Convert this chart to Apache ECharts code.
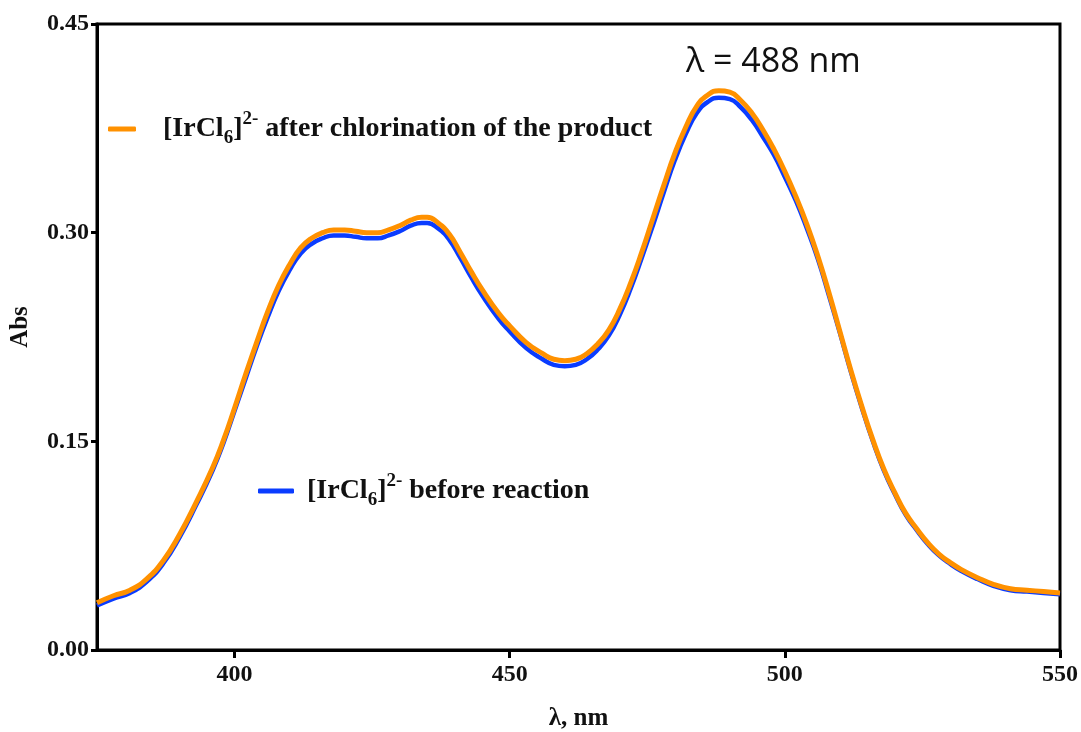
<!DOCTYPE html>
<html>
<head>
<meta charset="utf-8">
<script src="https://cdn.jsdelivr.net/npm/echarts@6/dist/echarts.min.js"></script>
<style>html,body{margin:0;padding:0;background:#fff}#c{width:1081px;height:732px}</style>
</head>
<body>
<div id="c"></div>
<script>
const wavelengths = [375,378,381,384,387,390,393,396,398,400,402,404,406,408,410,412,414,416,418,420,422,424,426,428,430,432,434,435,437,439,441,443,445,448,450,453,456,458,460,462,464,466,468,470,472,474,476,478,480,482,484,486,488,490,492,494,496,498,500,502,504,506,508,510,512,514,516,518,520,522,524,526,528,530,532,535,538,541,544,547,550];
const afterChlorination = [0.034,0.039,0.043,0.051,0.064,0.083,0.106,0.131,0.151,0.174,0.198,0.221,0.243,0.262,0.277,0.289,0.296,0.300,0.302,0.302,0.301,0.300,0.300,0.302,0.305,0.309,0.311,0.311,0.307,0.299,0.286,0.272,0.259,0.242,0.233,0.221,0.213,0.209,0.208,0.209,0.213,0.220,0.230,0.245,0.264,0.286,0.310,0.334,0.357,0.376,0.391,0.399,0.402,0.401,0.395,0.386,0.374,0.360,0.344,0.326,0.306,0.283,0.257,0.229,0.201,0.175,0.151,0.130,0.113,0.098,0.087,0.077,0.069,0.063,0.058,0.052,0.047,0.044,0.043,0.042,0.041];
const beforeReaction = [0.032,0.037,0.041,0.049,0.062,0.081,0.104,0.129,0.149,0.172,0.195,0.218,0.239,0.258,0.273,0.285,0.292,0.296,0.298,0.298,0.297,0.296,0.296,0.298,0.301,0.305,0.307,0.307,0.303,0.295,0.282,0.268,0.255,0.238,0.229,0.217,0.209,0.205,0.204,0.205,0.209,0.216,0.226,0.241,0.260,0.282,0.305,0.329,0.352,0.371,0.386,0.394,0.397,0.396,0.390,0.381,0.369,0.356,0.340,0.323,0.303,0.281,0.255,0.228,0.200,0.174,0.150,0.129,0.112,0.097,0.086,0.076,0.068,0.062,0.057,0.051,0.046,0.043,0.042,0.041,0.040];
const xTicks = [400,450,500,550];
const yTicks = [0.00,0.15,0.30,0.45];

const chart = echarts.init(document.getElementById('c'));
const serif = '"Liberation Serif", "DejaVu Serif", serif';
const richStyles = {
  b: {fontFamily: serif, fontWeight: 'bold', fontSize: 28, color: '#111', lineHeight: 38},
  s: {fontFamily: serif, fontWeight: 'bold', fontSize: 19, color: '#111', lineHeight: 19, verticalAlign: 'bottom'},
  p: {fontFamily: serif, fontWeight: 'bold', fontSize: 19, color: '#111', lineHeight: 19, verticalAlign: 'top'}
};
chart.setOption({
  animation: false,
  backgroundColor: '#fff',
  grid: {left: 97, right: 21, top: 24, bottom: 82, show: true, borderColor: '#000', borderWidth: 3, containLabel: false, outerBoundsMode: 'none'},
  xAxis: {
    type: 'value', min: 375, max: 550,
    name: 'λ, nm', nameLocation: 'middle', nameGap: 56,
    nameTextStyle: {fontFamily: serif, fontWeight: 'bold', fontSize: 25, color: '#111'},
    axisLine: {lineStyle: {color: '#000', width: 3}},
    axisTick: {show: true, length: 8, lineStyle: {color: '#000', width: 3}, customValues: xTicks},
    axisLabel: {customValues: xTicks, margin: 13, fontFamily: serif, fontWeight: 'bold', fontSize: 24, color: '#111'},
    splitLine: {show: false}
  },
  yAxis: {
    type: 'value', min: 0, max: 0.45, interval: 0.15,
    name: 'Abs', nameLocation: 'middle', nameGap: 64,
    nameTextStyle: {fontFamily: serif, fontWeight: 'bold', fontSize: 25, color: '#111', padding: [0, 0, 0, 20]},
    axisLine: {lineStyle: {color: '#000', width: 3}},
    axisTick: {show: true, length: 6, lineStyle: {color: '#000', width: 3}},
    axisLabel: {margin: 8, fontFamily: serif, fontWeight: 'bold', fontSize: 24, color: '#111', formatter: v => v.toFixed(2)},
    splitLine: {show: false}
  },
  legend: [
    {data: ['before'], left: 253, top: 467, icon: 'roundRect', itemWidth: 36, itemHeight: 5, itemGap: 0,
     formatter: () => '{b|[IrCl}{s|6}{b|]}{p|2-}{b| before reaction}', textStyle: {rich: richStyles, padding: [0,0,0,8]}},
    {data: ['after'], left: 103, top: 105, icon: 'roundRect', itemWidth: 28, itemHeight: 5, itemGap: 0,
     formatter: () => '{b|[IrCl}{s|6}{b|]}{p|2-}{b| after chlorination of the product}', textStyle: {rich: richStyles, padding: [0,0,0,22]}}
  ],
  graphic: [
    {type: 'text', left: 686, top: 45, style: {text: 'λ = 488 nm', fontFamily: '"Open Sans", "Noto Sans", sans-serif', fontSize: 34, fill: '#111'}}
  ],
  series: [
    {name: 'before', type: 'line', smooth: 0.5, showSymbol: false, data: wavelengths.map((w, i) => [w, beforeReaction[i]]),
     lineStyle: {color: '#0a3cff', width: 4.5}, itemStyle: {color: '#0a3cff'}, z: 2},
    {name: 'after', type: 'line', smooth: 0.5, showSymbol: false, data: wavelengths.map((w, i) => [w, afterChlorination[i]]),
     lineStyle: {color: '#ff9100', width: 5}, itemStyle: {color: '#ff9100'}, z: 3}
  ]
});
</script>
</body>
</html>
